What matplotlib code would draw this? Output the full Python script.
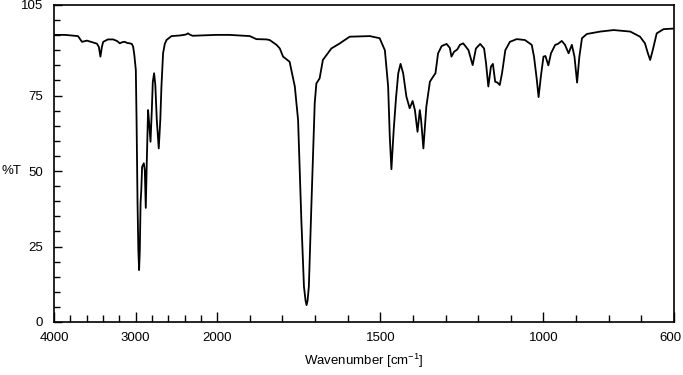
import numpy as np
import matplotlib
matplotlib.use("Agg")
import matplotlib.pyplot as plt
import matplotlib.transforms as mtransforms

plt.rcParams['font.family'] = ['Liberation Sans', 'DejaVu Sans']

# IR spectrum: wavenumber [cm-1] and transmittance [%]
wavenumber = [4000, 3865, 3706, 3657, 3596, 3523, 3474, 3450, 3431, 3413,
              3397, 3339, 3275, 3229, 3193, 3162, 3132, 3101, 3070, 3046,
              3030, 3015, 2997, 2988, 2976, 2966, 2957, 2948, 2939, 2930,
              2920, 2899, 2887, 2875, 2862, 2847, 2832, 2817, 2801, 2789,
              2773, 2758, 2740, 2716, 2697, 2683, 2663, 2642, 2621, 2560,
              2459, 2385, 2357, 2336, 2300, 2214, 2010, 1962, 1900, 1880,
              1849, 1839, 1818, 1808, 1798, 1778, 1762, 1752, 1742, 1734,
              1729, 1726, 1723, 1719, 1711, 1701, 1696, 1686, 1676, 1650,
              1624, 1594, 1532, 1502, 1486, 1476, 1471, 1466, 1459, 1452,
              1445, 1438, 1430, 1420, 1410, 1401, 1394, 1386, 1379, 1375,
              1368, 1359, 1348, 1338, 1331, 1323, 1312, 1297, 1287, 1282,
              1274, 1264, 1256, 1246, 1230, 1217, 1207, 1194, 1182, 1176,
              1169, 1161, 1155, 1148, 1141, 1134, 1127, 1117, 1103, 1082,
              1057, 1036, 1029, 1021, 1015, 1008, 1000, 994, 985, 977,
              964, 956, 944, 934, 923, 913, 905, 897, 890, 882,
              867, 826, 785, 734, 704, 689, 680, 673, 665, 653,
              632, 600]
transmittance = [95.1, 95.1, 94.7, 92.8, 93.2, 92.6, 92.2, 91.1, 87.9, 91.1,
                 92.8, 93.6, 93.6, 93.1, 92.3, 92.7, 92.8, 92.4, 92.3, 92.1,
                 91.2, 88.4, 83.5, 66.9, 39.4, 23.8, 17.2, 23.8, 39.4, 43.7,
                 51.4, 52.6, 50.3, 37.8, 53.7, 70.2, 65.3, 59.7, 70.2, 79.5,
                 82.4, 78.5, 66.9, 57.5, 66.9, 78.0, 89.0, 92.1, 93.4, 94.7,
                 94.9, 95.2, 95.6, 95.2, 94.8, 94.9, 95.1, 95.1, 94.7, 93.7,
                 93.6, 93.4, 91.8, 90.6, 87.9, 86.2, 78.0, 66.9, 33.8, 11.7,
                 7.0, 5.6, 7.0, 11.7, 39.4, 72.5, 79.0, 80.7, 86.8, 90.6,
                 92.3, 94.5, 94.7, 94.0, 90.0, 78.0, 61.4, 50.6, 63.6, 74.1,
                 82.4, 85.5, 82.4, 74.6, 70.8, 73.2, 70.2, 63.0, 70.2, 66.9,
                 57.5, 71.3, 79.6, 81.3, 82.4, 89.0, 91.4, 92.1, 90.8, 87.9,
                 89.5, 90.3, 91.8, 92.3, 90.1, 85.1, 90.6, 92.1, 90.6, 85.7,
                 78.0, 84.6, 85.5, 79.6, 79.3, 78.5, 82.4, 90.0, 92.8, 93.7,
                 93.4, 91.8, 87.9, 80.8, 74.5, 81.3, 87.9, 88.1, 85.0, 89.0,
                 91.8, 92.1, 93.1, 91.8, 89.0, 91.8, 87.9, 79.3, 87.9, 94.0,
                 95.4, 96.2, 96.7, 96.2, 94.5, 92.3, 89.0, 86.8, 90.1, 95.6,
                 97.0, 97.2]

x_major = [4000, 3000, 2000, 1500, 1000, 600]
x_minor = [3800, 3600, 3400, 3200, 2800, 2600, 2400, 2200,
           1900, 1800, 1700, 1600, 1400, 1300, 1200, 1100, 900, 800, 700]
y_major = [0, 25, 50, 75, 105]
y_minor = [5, 10, 15, 20, 30, 35, 40, 45, 55, 60, 65, 70, 80, 85, 90, 95, 100]


# the chart is compressed 4x above 2000 cm-1
def fwd(x):
    x = np.asarray(x, dtype=float)
    return np.where(x > 2000, 2000 + (x - 2000) / 4.0, x)


def inv(u):
    u = np.asarray(u, dtype=float)
    return np.where(u > 2000, 2000 + (u - 2000) * 4.0, u)


fig = plt.figure(figsize=(6.83, 3.75), dpi=100)
ax = fig.add_axes([54 / 683, 53 / 375, 620 / 683, 317 / 375])
ax.set_xscale('function', functions=(fwd, inv))
ax.plot(wavenumber, transmittance, color='black', lw=1.3, solid_joinstyle='round')

ax.set_xlim(4000, 600)
ax.set_ylim(0, 105)
ax.set_xticks(x_major)
ax.set_xticklabels([str(v) for v in x_major])
ax.set_xticks(x_minor, minor=True)
ax.set_yticks(y_major)
ax.set_yticklabels([str(v) for v in y_major])
ax.set_yticks(y_minor, minor=True)

ax.tick_params(axis='both', which='both', direction='in', labelsize=9.5,
               width=1.0, color='black')
ax.tick_params(axis='x', which='major', length=7.5, pad=7)
ax.tick_params(axis='x', which='minor', length=5)
ax.tick_params(axis='y', which='major', length=6, pad=8)
ax.tick_params(axis='y', which='minor', length=4.5)
for s in ax.spines.values():
    s.set_linewidth(1.2)

# nudge the last label so it stays inside the figure
last = ax.get_xticklabels()[-1]
last.set_transform(last.get_transform() +
                   mtransforms.ScaledTranslation(-4 / 100, 0, fig.dpi_scale_trans))

ax.set_xlabel('Wavenumber [cm$^{\\mathregular{-1}}$]', fontsize=9.5, labelpad=6)
ax.set_ylabel('%T', fontsize=9.5, rotation=0, ha='left', va='center')
ax.yaxis.set_label_coords(-53 / 620, 50 / 105)

fig.savefig('out.png', dpi=100)
